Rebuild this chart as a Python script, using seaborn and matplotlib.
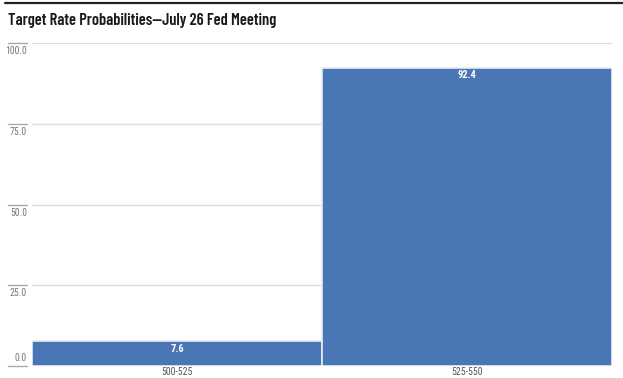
import matplotlib
matplotlib.use("Agg")
import matplotlib.pyplot as plt
from matplotlib.lines import Line2D
import matplotlib.transforms as mtransforms
import seaborn as sns
import pandas as pd

categories = ["500-525", "525-550"]
probabilities = [7.6, 92.4]
yticks = [0.0, 25.0, 50.0, 75.0, 100.0]
title = "Target Rate Probabilities\u2014July 26 Fed Meeting"

sns.set_theme(style="white")
plt.rcParams['font.family'] = ['Roboto Condensed', 'DejaVu Sans']

df = pd.DataFrame({"rate": categories, "prob": probabilities})

fig = plt.figure(figsize=(6.23, 3.78), dpi=100)
ax = fig.add_axes([32/623, 1-366/378, (612-32)/623, (366-43)/378])

sns.barplot(data=df, x="rate", y="prob", ax=ax, color="#4a76b5", saturation=1,
            width=1.0, edgecolor="#e8eef7", linewidth=1.2, zorder=3)

ax.set_xlim(-0.5, 1.5)
ax.set_ylim(0, 100)
ax.set_xlabel("")
ax.set_ylabel("")
for s in ax.spines.values():
    s.set_visible(False)

ax.set_yticks(yticks)
ax.set_yticklabels([])
ax.tick_params(axis="y", length=0)
ax.tick_params(axis="x", length=0, pad=1, labelsize=7, labelcolor="#555555")
for t in yticks:
    if t > 0:
        ax.axhline(t, color="#dcdcdc", lw=1.0, zorder=1)

trans = mtransforms.blended_transform_factory(fig.transFigure, ax.transData)
below = trans + mtransforms.ScaledTranslation(0, -3/100, fig.dpi_scale_trans)
above = trans + mtransforms.ScaledTranslation(0, 3/100, fig.dpi_scale_trans)
for t in yticks:
    ax.add_line(Line2D([8/623, 27/623], [t, t], transform=trans, color="#aaaaaa",
                       lw=1.0, clip_on=False))
    if t == 0:
        ax.text(27/623, t, f"{t:.1f}", transform=above, ha="right", va="bottom",
                fontsize=7, color="#777777", clip_on=False)
    else:
        ax.text(27/623, t, f"{t:.1f}", transform=below, ha="right", va="top",
                fontsize=7, color="#777777", clip_on=False)

# value labels
for i, v in enumerate(probabilities):
    ax.text(i, v - 0.9, f"{v:.1f}", ha="center", va="top", color="white",
            fontsize=7.5, fontweight="bold", zorder=5)

fig.add_artist(Line2D([5/623, 1.0], [1-2.5/378, 1-2.5/378], color="#222222", lw=1.6))
fig.text(8/623, 1-20.5/378, title, ha="left", va="center", fontsize=11.8,
         fontweight="semibold", color="#1a1a1a",
         family=['Barlow Condensed', 'Roboto Condensed', 'DejaVu Sans'])

fig.savefig("out.png", dpi=100, facecolor="white")
